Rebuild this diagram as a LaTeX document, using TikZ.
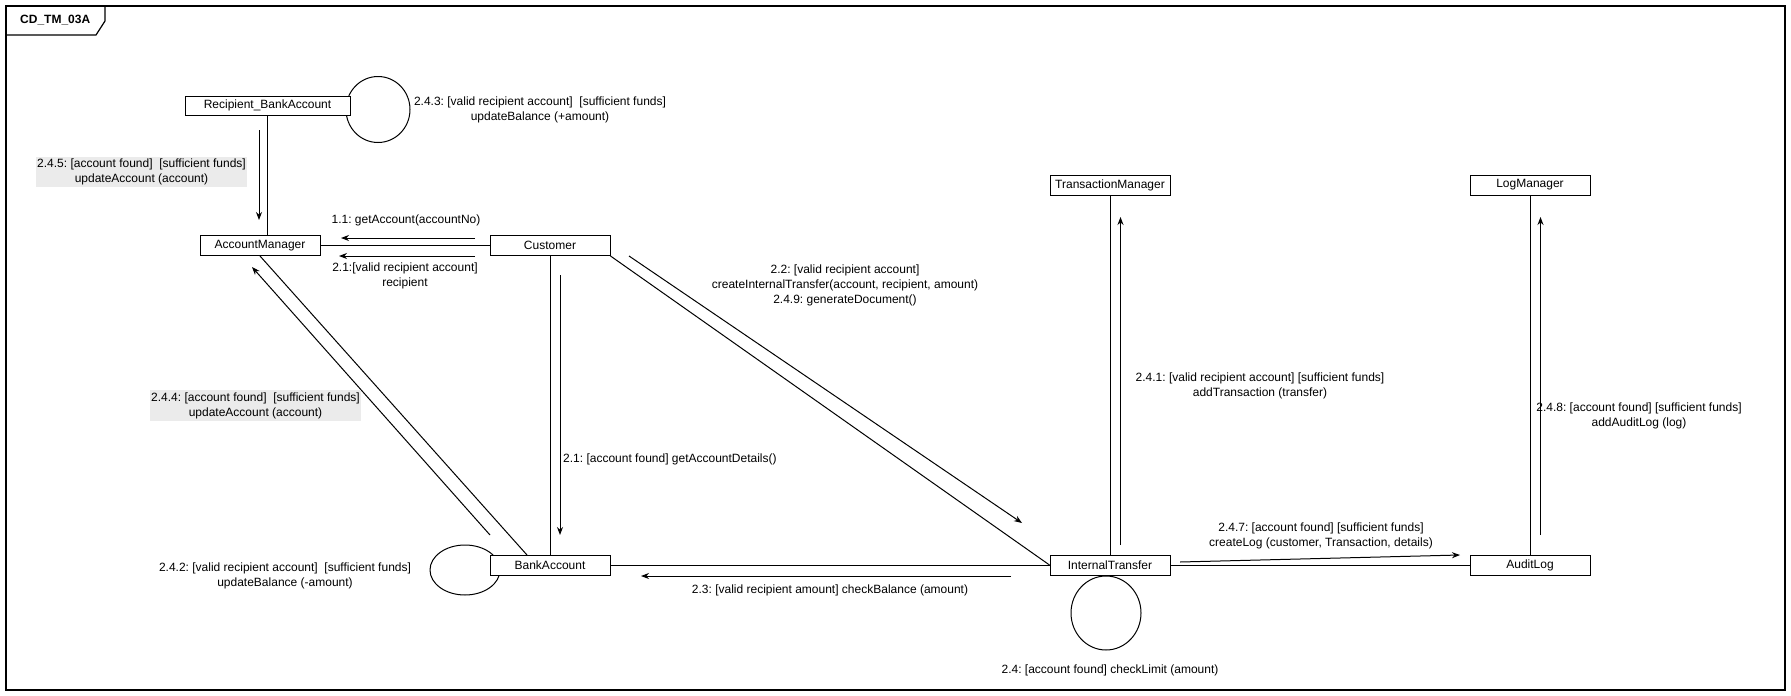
\documentclass[tikz,border=0pt]{standalone}
\usepackage{fontspec}
\setmainfont{Liberation Sans}
\usetikzlibrary{arrows.meta}
\frenchspacing
\tikzset{
  obj/.style={draw=black, line width=1pt, fill=white, minimum width=120pt, minimum height=20pt, inner sep=0pt, font=\fontsize{12}{15}\selectfont},
  lbl/.style={align=center, inner sep=0pt, font=\fontsize{12}{15}\selectfont},
  glbl/.style={lbl, fill=black!8, inner xsep=1pt, inner ysep=2pt},
  link/.style={line width=1pt},
  msg/.style={line width=1pt, -{Stealth[length=8pt,width=6pt]}},
  loop/.style={line width=1pt}
}
\begin{document}
\begin{tikzpicture}[x=1pt,y=-1pt]
\useasboundingbox (0,0) rectangle (1791,696);
% frame
\draw[line width=1.2pt] (6,6) rectangle (1785,690);
\draw[line width=1.2pt] (6,35) -- (96,35) -- (105,21) -- (105,6);
\node[lbl, anchor=west, font=\bfseries\fontsize{12}{14}\selectfont] (title) at (20,20) {CD\_TM\_03A};

% self loops (drawn under boxes)
\draw[loop] (378,109.5) ellipse [x radius=32, y radius=33];
\draw[loop] (465,570) ellipse [x radius=35, y radius=25];
\draw[loop] (1106,613) ellipse [x radius=35, y radius=37];

% objects
\node[obj, minimum width=165pt, minimum height=19pt] (rba) at (267.5,105.5) {Recipient\_BankAccount};
\node[obj] (am) at (260,245.5) {AccountManager};
\node[obj] (cust) at (550,245.5) {Customer};
\node[obj] (ba) at (550,565.5) {BankAccount};
\node[obj] (it) at (1110,565) {InternalTransfer};
\node[obj] (tm) at (1110,185) {TransactionManager};
\node[obj] (lm) at (1530,185) {LogManager};
\node[obj] (al) at (1530,565) {AuditLog};

% links
\draw[link] (rba.south) -- (rba.south |- am.north);
\draw[link] (am.east) -- (cust.west);
\draw[link] (cust.south) -- (ba.north);
\draw[link] (am.south) -- ([xshift=-23pt]ba.north);
\draw[link] (cust.south east) -- (it.west);
\draw[link] (ba.east) -- (ba.east -| it.west);
\draw[link] (it.north) -- (tm.south);
\draw[link] (it.east) -- (al.west);
\draw[link] (al.north) -- (lm.south);

% message arrow endpoints
\coordinate (s245) at (259,130);   \coordinate (e245) at (259,220);
\coordinate (s11) at (475,238);    \coordinate (e11) at (341,238);
\coordinate (s21) at (475,256);    \coordinate (e21) at (339,256);
\coordinate (s21b) at (560,275);   \coordinate (e21b) at (560,535);
\coordinate (s244) at (490,535);   \coordinate (e244) at (252,267);
\coordinate (s22) at (629,256);    \coordinate (e22) at (1022,523);
\coordinate (s23) at (1011,576);   \coordinate (e23) at (641,576);
\coordinate (s241) at (1120.5,545);\coordinate (e241) at (1120.5,217);
\coordinate (s247) at (1180,562);  \coordinate (e247) at (1460,555);
\coordinate (s248) at (1540.5,535);\coordinate (e248) at (1540.5,217);

\draw[msg] (s245) -- (e245);
\draw[msg] (s11) -- (e11);
\draw[msg] (s21) -- (e21);
\draw[msg] (s21b) -- (e21b);
\draw[msg] (s244) -- (e244);
\draw[msg] (s22) -- (e22);
\draw[msg] (s23) -- (e23);
\draw[msg] (s241) -- (e241);
\draw[msg] (s247) -- (e247);
\draw[msg] (s248) -- (e248);

% labels
\node[glbl] (l245) at (141.5,172) {2.4.5: [account found]\ \ [sufficient funds]\\updateAccount (account)};
\node[lbl] (l243) at (540,109.5) {2.4.3: [valid recipient account]\ \ [sufficient funds]\\updateBalance (+amount)};
\node[lbl] (l11) at (406,220) {1.1: getAccount(accountNo)};
\node[lbl] (l21) at (405,275.5) {2.1:[valid recipient account]\\recipient};
\node[lbl, anchor=west] (l21b) at (563,459) {2.1: [account found] getAccountDetails()};
\node[glbl] (l244) at (255.5,405.5) {2.4.4: [account found]\ \ [sufficient funds]\\updateAccount (account)};
\node[lbl] (l242) at (285,575.5) {2.4.2: [valid recipient account]\ \ [sufficient funds]\\updateBalance (-amount)};
\node[lbl] (l22) at (845,285) {2.2: [valid recipient account]\\createInternalTransfer(account, recipient, amount)\\2.4.9: generateDocument()};
\node[lbl] (l23) at (830,590) {2.3: [valid recipient amount] checkBalance (amount)};
\node[lbl] (l24) at (1110,670) {2.4: [account found] checkLimit (amount)};
\node[lbl] (l241) at (1260,385.5) {2.4.1: [valid recipient account] [sufficient funds]\\addTransaction (transfer)};
\node[lbl] (l247) at (1321,535.5) {2.4.7: [account found] [sufficient funds]\\createLog (customer, Transaction, details)};
\node[lbl] (l248) at (1639,415.5) {2.4.8: [account found] [sufficient funds]\\addAuditLog (log)};
\end{tikzpicture}
\end{document}
